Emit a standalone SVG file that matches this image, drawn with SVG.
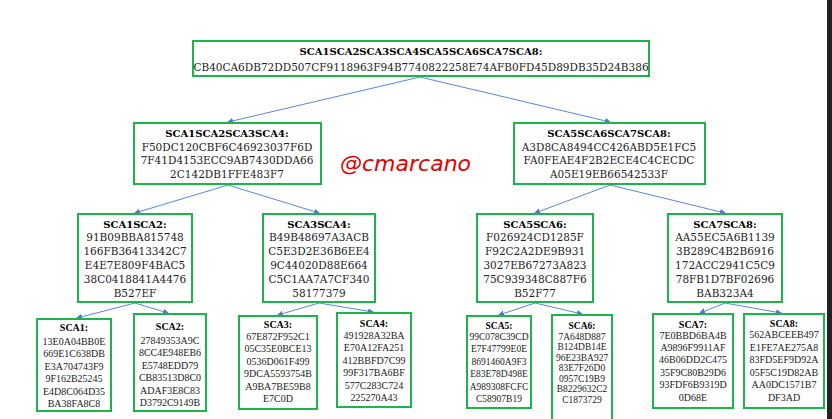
<svg xmlns="http://www.w3.org/2000/svg" width="832" height="419" viewBox="0 0 832 419">
<style>
.box{fill:#fff;stroke:#1db34f;stroke-width:2}
.t{font-family:"DejaVu Serif",serif;font-size:10.5px;fill:#222;text-anchor:middle}
.tb{font-family:"DejaVu Serif",serif;font-size:10px;font-weight:bold;fill:#000;text-anchor:middle}
.s{font-family:"Liberation Serif",serif;font-size:10px;fill:#222;text-anchor:middle}
.sb{font-family:"Liberation Serif",serif;font-size:10px;font-weight:bold;fill:#000;text-anchor:middle}
.c{stroke:#5b87d6;stroke-width:1;fill:none;marker-end:url(#a)}
</style>
<defs>
<marker id="a" markerWidth="6" markerHeight="6" refX="5" refY="3" orient="auto" markerUnits="userSpaceOnUse">
<path d="M0,0 L6,3 L0,6 z" fill="#4a78d0"/>
</marker>
</defs>
<rect width="832" height="419" fill="#fff"/>
<rect x="827" y="0" width="5" height="419" fill="#222"/>
<g id="connectors">
<line class="c" x1="420" y1="77" x2="228" y2="122"/>
<line class="c" x1="420" y1="77" x2="610" y2="122"/>
<line class="c" x1="228" y1="185" x2="135" y2="213"/>
<line class="c" x1="228" y1="185" x2="319" y2="213"/>
<line class="c" x1="610" y1="185" x2="535" y2="213"/>
<line class="c" x1="610" y1="185" x2="725" y2="213"/>
<line class="c" x1="135" y1="303" x2="77" y2="318"/>
<line class="c" x1="135" y1="303" x2="168" y2="313"/>
<line class="c" x1="319" y1="303" x2="278" y2="315"/>
<line class="c" x1="319" y1="303" x2="373" y2="312"/>
<line class="c" x1="535" y1="303" x2="499" y2="315"/>
<line class="c" x1="535" y1="303" x2="582" y2="314"/>
<line class="c" x1="725" y1="303" x2="700" y2="313"/>
<line class="c" x1="725" y1="303" x2="781" y2="313"/>
</g>
<g id="root">
<rect class="box" x="193" y="41" width="456" height="35"/>
<text class="tb" x="421" y="54.5" font-size="9.6">SCA1SCA2SCA3SCA4SCA5SCA6SCA7SCA8:</text>
<text class="t" x="421" y="70.5" font-size="10.3">CB40CA6DB72DD507CF9118963F94B7740822258E74AFB0FD45D89DB35D24B386</text>
</g>
<g id="n1234">
<rect class="box" x="134" y="123" width="187" height="61"/>
<text class="tb" x="227" y="136.5">SCA1SCA2SCA3SCA4:</text>
<text class="t" x="227" y="150.5">F50DC120CBF6C46923037F6D</text>
<text class="t" x="227" y="164">7F41D4153ECC9AB7430DDA66</text>
<text class="t" x="227" y="177.5">2C142DB1FFE483F7</text>
</g>
<g id="n5678">
<rect class="box" x="514" y="123" width="191" height="61"/>
<text class="tb" x="609" y="136.5">SCA5SCA6SCA7SCA8:</text>
<text class="t" x="609" y="150.5">A3D8CA8494CC426ABD5E1FC5</text>
<text class="t" x="609" y="164">FA0FEAE4F2B2ECE4C4CECDC</text>
<text class="t" x="609" y="177.5">A05E19EB66542533F</text>
</g>
<g id="n12">
<rect class="box" x="78" y="214" width="114" height="88"/>
<text class="tb" x="135" y="227.5">SCA1SCA2:</text>
<text class="t" x="135" y="240.5">91B09BBA815748</text>
<text class="t" x="135" y="254.5">166FB36413342C7</text>
<text class="t" x="135" y="268.5">E4E7E809F4BAC5</text>
<text class="t" x="135" y="282.5">38C0418841A4476</text>
<text class="t" x="135" y="296.5">B527EF</text>
</g>
<g id="n34">
<rect class="box" x="263" y="214" width="112" height="88"/>
<text class="tb" x="319" y="227.5">SCA3SCA4:</text>
<text class="t" x="319" y="240.5">B49B48697A3ACB</text>
<text class="t" x="319" y="254.5">C5E3D2E36B6EE4</text>
<text class="t" x="319" y="268.5">9C44020D88E664</text>
<text class="t" x="319" y="282.5">C5C1AA7A7CF340</text>
<text class="t" x="319" y="296.5">58177379</text>
</g>
<g id="n56">
<rect class="box" x="477" y="214" width="116" height="88"/>
<text class="tb" x="535" y="227.5">SCA5SCA6:</text>
<text class="t" x="535" y="240.5">F026924CD1285F</text>
<text class="t" x="535" y="254.5">F92C2A2DE9B931</text>
<text class="t" x="535" y="268.5">3027EB67273A823</text>
<text class="t" x="535" y="282.5">75C939348C887F6</text>
<text class="t" x="535" y="296.5">B52F77</text>
</g>
<g id="n78">
<rect class="box" x="668" y="214" width="114" height="88"/>
<text class="tb" x="725" y="227.5">SCA7SCA8:</text>
<text class="t" x="725" y="240.5">AA55EC5A6B1139</text>
<text class="t" x="725" y="254.5">3B289C4B2B6916</text>
<text class="t" x="725" y="268.5">172ACC2941C5C9</text>
<text class="t" x="725" y="282.5">78FB1D7BF02696</text>
<text class="t" x="725" y="296.5">BAB323A4</text>
</g>
<g id="sca1">
<rect class="box" x="37" y="319" width="74" height="92"/>
<text class="sb" x="74" y="330.5">SCA1:</text>
<text class="s" x="74" y="344.5">13E0A04BB0E</text>
<text class="s" x="74" y="357">669E1C638DB</text>
<text class="s" x="74" y="369.5">E3A704743F9</text>
<text class="s" x="74" y="382">9F162B25245</text>
<text class="s" x="74" y="394.5">E4D8C064D35</text>
<text class="s" x="74" y="407">BA38FA8C8</text>
</g>
<g id="sca2">
<rect class="box" x="134" y="314" width="72" height="97"/>
<text class="sb" x="170" y="329.5">SCA2:</text>
<text class="s" x="170" y="343.5">27849353A9C</text>
<text class="s" x="170" y="356">8CC4E948EB6</text>
<text class="s" x="170" y="368.5">E5748EDD79</text>
<text class="s" x="170" y="381">CB83513D8C0</text>
<text class="s" x="170" y="393.5">ADAF3E8C83</text>
<text class="s" x="170" y="406">D3792C9149B</text>
</g>
<g id="sca3">
<rect class="box" x="239" y="316" width="78" height="93"/>
<text class="sb" x="278" y="327.5">SCA3:</text>
<text class="s" x="278" y="339.5">67E872F952C1</text>
<text class="s" x="278" y="352">05C35E0BCE13</text>
<text class="s" x="278" y="364.5">0536D061F499</text>
<text class="s" x="278" y="377">9DCA5593754B</text>
<text class="s" x="278" y="389.5">A9BA7BE59B8</text>
<text class="s" x="278" y="402">E7C0D</text>
</g>
<g id="sca4">
<rect class="box" x="337" y="313" width="74" height="94"/>
<text class="sb" x="374" y="326.5">SCA4:</text>
<text class="s" x="374" y="338.5">491928A32BA</text>
<text class="s" x="374" y="351">E70A12FA251</text>
<text class="s" x="374" y="363.5">412BBFD7C99</text>
<text class="s" x="374" y="376">99F317BA6BF</text>
<text class="s" x="374" y="388.5">577C283C724</text>
<text class="s" x="374" y="401">225270A43</text>
</g>
<g id="sca5" font-size="9.5">
<rect class="box" x="467" y="316" width="64" height="92"/>
<text class="sb" x="499" y="328.5" style="font-size:9.5px">SCA5:</text>
<text class="s" x="499" y="339.5" style="font-size:9.5px">99C078C39CD</text>
<text class="s" x="499" y="352" style="font-size:9.5px">E7F47799E0E</text>
<text class="s" x="499" y="364.5" style="font-size:9.5px">8691460A9F3</text>
<text class="s" x="499" y="377" style="font-size:9.5px">E83E78D498E</text>
<text class="s" x="499" y="389.5" style="font-size:9.5px">A989308FCFC</text>
<text class="s" x="499" y="402" style="font-size:9.5px">C58907B19</text>
</g>
<g id="sca6">
<rect class="box" x="552" y="315" width="60" height="112"/>
<text class="sb" x="582" y="328.5" style="font-size:9.5px">SCA6:</text>
<text class="s" x="582" y="339.5" style="font-size:9.5px">7A648D887</text>
<text class="s" x="582" y="350" style="font-size:9.5px">B124DB14E</text>
<text class="s" x="582" y="360.5" style="font-size:9.5px">96E23BA927</text>
<text class="s" x="582" y="371" style="font-size:9.5px">83E7F26D0</text>
<text class="s" x="582" y="381.5" style="font-size:9.5px">0957C19B9</text>
<text class="s" x="582" y="392" style="font-size:9.5px">B8229632C2</text>
<text class="s" x="582" y="402.5" style="font-size:9.5px">C1873729</text>
</g>
<g id="sca7">
<rect class="box" x="653" y="314" width="80" height="94"/>
<text class="sb" x="693" y="327.5">SCA7:</text>
<text class="s" x="693" y="338.5">7E0BBD6BA4B</text>
<text class="s" x="693" y="350.5">A9896F9911AF</text>
<text class="s" x="693" y="363">46B06DD2C475</text>
<text class="s" x="693" y="375.5">35F9C80B29D6</text>
<text class="s" x="693" y="387.5">93FDF6B9319D</text>
<text class="s" x="693" y="400.5">0D68E</text>
</g>
<g id="sca8">
<rect class="box" x="744" y="314" width="80" height="94"/>
<text class="sb" x="784" y="326.5">SCA8:</text>
<text class="s" x="784" y="337.5">562ABCEEB497</text>
<text class="s" x="784" y="350.5">E1FE7AE275A8</text>
<text class="s" x="784" y="363">83FD5EF9D92A</text>
<text class="s" x="784" y="375.5">05F5C19D82AB</text>
<text class="s" x="784" y="387.5">AA0DC1571B7</text>
<text class="s" x="784" y="400.5">DF3AD</text>
</g>
<text x="340" y="171" font-family="'DejaVu Sans',sans-serif" font-style="italic" font-size="22" fill="#e00000">@cmarcano</text>
</svg>
